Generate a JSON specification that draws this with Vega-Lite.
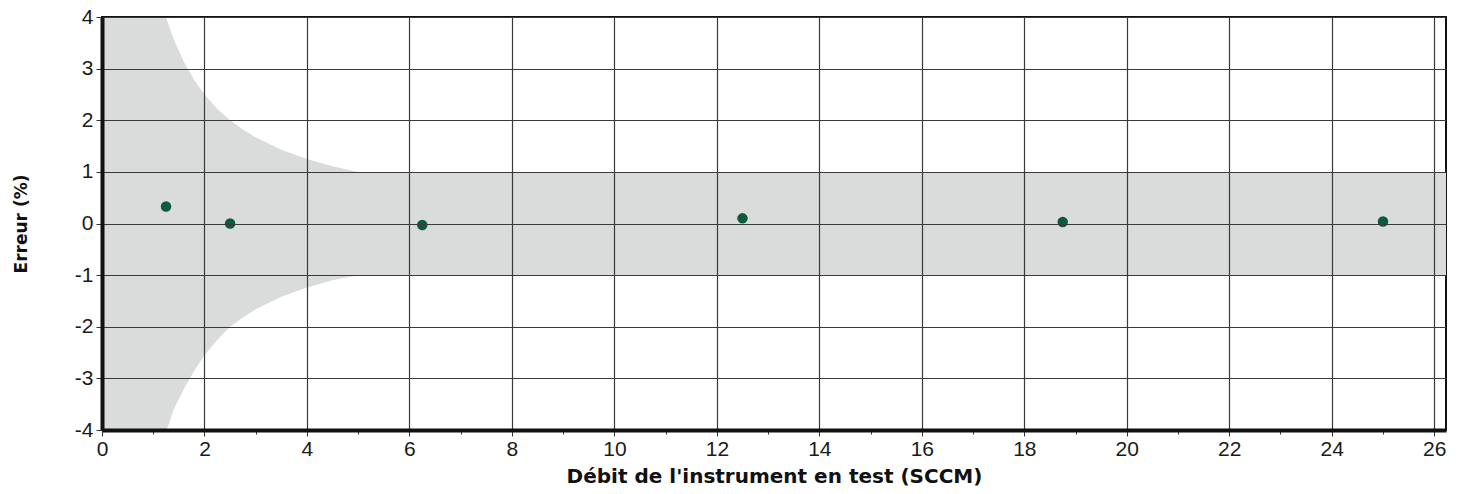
{
  "$schema": "https://vega.github.io/schema/vega-lite/v6.json",
  "autosize": "none",
  "width": 1344,
  "height": 413,
  "padding": {"left": 102, "top": 17, "right": 17, "bottom": 64},
  "background": "white",
  "config": {
    "view": {"stroke": "#111", "strokeWidth": 2},
    "font": "Liberation Sans",
    "axis": {"labelFontSize": 21, "labelFont": "Liberation Sans", "labelColor": "#1a1a1a"}
  },
  "datasets": {
    "band": [
      {"x": 0, "hi": 4, "lo": -4},
      {"x": 1.25, "hi": 4, "lo": -4},
      {"x": 1.3, "hi": 3.85, "lo": -3.9},
      {"x": 1.4, "hi": 3.57, "lo": -3.6},
      {"x": 1.6, "hi": 3.13, "lo": -3.2},
      {"x": 1.8, "hi": 2.78, "lo": -2.85},
      {"x": 2.0, "hi": 2.5, "lo": -2.55},
      {"x": 2.25, "hi": 2.22, "lo": -2.25},
      {"x": 2.5, "hi": 2.0, "lo": -2.0},
      {"x": 2.75, "hi": 1.82, "lo": -1.82},
      {"x": 3.0, "hi": 1.67, "lo": -1.66},
      {"x": 3.5, "hi": 1.43, "lo": -1.42},
      {"x": 4.0, "hi": 1.25, "lo": -1.24},
      {"x": 4.5, "hi": 1.11, "lo": -1.1},
      {"x": 5.0, "hi": 1.0, "lo": -1.0},
      {"x": 26.23, "hi": 1.0, "lo": -1.0}
    ],
    "points": [
      {"flow": 1.25, "err": 0.33},
      {"flow": 2.5, "err": 0.0},
      {"flow": 6.25, "err": -0.03},
      {"flow": 12.5, "err": 0.1},
      {"flow": 18.75, "err": 0.03},
      {"flow": 25.0, "err": 0.04}
    ]
  },
  "layer": [
    {
      "data": {"name": "band"},
      "mark": {"type": "area", "color": "#d9dcdb", "clip": true},
      "encoding": {
        "x": {
          "field": "x", "type": "quantitative",
          "scale": {"domain": [0, 26.23], "nice": false, "zero": false},
          "axis": {
            "zindex": 1,
            "values": [0,0.5,1,1.5,2,2.5,3,3.5,4,4.5,5,5.5,6,6.5,7,7.5,8,8.5,9,9.5,10,10.5,11,11.5,12,12.5,13,13.5,14,14.5,15,15.5,16,16.5,17,17.5,18,18.5,19,19.5,20,20.5,21,21.5,22,22.5,23,23.5,24,24.5,25,25.5,26],
            "labelExpr": "datum.value % 2 == 0 ? '' + datum.value : ''",
            "labelOverlap": false,
            "labelFlush": false,
            "labelFontSize": 21,
            "labelPadding": 2,
            "grid": true,
            "gridColor": "#3a3a3a",
            "gridWidth": 1.2,
            "gridOpacity": {"condition": {"test": "datum.value % 2 == 0", "value": 1}, "value": 0},
            "tickSize": {"condition": {"test": "datum.value % 2 == 0", "value": 6}, "value": 4},
            "tickColor": "#333",
            "tickWidth": 1,
            "domainColor": "#111",
            "domainWidth": 4,
            "title": "Débit de l'instrument en test (SCCM)",
            "titleFont": "DejaVu Sans",
            "titleFontSize": 20,
            "titleFontWeight": "bold",
            "titleColor": "#111",
            "titlePadding": 7
          }
        },
        "y": {
          "field": "hi", "type": "quantitative",
          "scale": {"domain": [-4, 4], "nice": false},
          "axis": {
            "zindex": 1,
            "values": [-4,-3.75,-3.5,-3.25,-3,-2.75,-2.5,-2.25,-2,-1.75,-1.5,-1.25,-1,-0.75,-0.5,-0.25,0,0.25,0.5,0.75,1,1.25,1.5,1.75,2,2.25,2.5,2.75,3,3.25,3.5,3.75,4],
            "labelExpr": "datum.value % 1 == 0 ? (datum.value < 0 ? '-' + abs(datum.value) : '' + datum.value) : ''",
            "labelOverlap": false,
            "labelFlush": false,
            "labelFontSize": 21,
            "labelPadding": 3,
            "grid": true,
            "gridColor": "#3a3a3a",
            "gridWidth": 1.2,
            "gridOpacity": {"condition": {"test": "datum.value % 1 == 0", "value": 1}, "value": 0},
            "tickSize": {"condition": {"test": "datum.value % 1 == 0", "value": 6}, "value": 4},
            "tickColor": "#333",
            "tickWidth": 1,
            "domainColor": "#111",
            "domainWidth": 4,
            "title": "Erreur (%)",
            "titleFont": "DejaVu Sans",
            "titleFontSize": 17,
            "titleFontWeight": "bold",
            "titleColor": "#111",
            "titlePadding": 44
          }
        },
        "y2": {"field": "lo"}
      }
    },
    {
      "data": {"name": "points"},
      "mark": {"type": "point", "filled": true, "color": "#0d5a3c", "size": 110, "opacity": 1},
      "encoding": {
        "x": {"field": "flow", "type": "quantitative"},
        "y": {"field": "err", "type": "quantitative"}
      }
    }
  ]
}
